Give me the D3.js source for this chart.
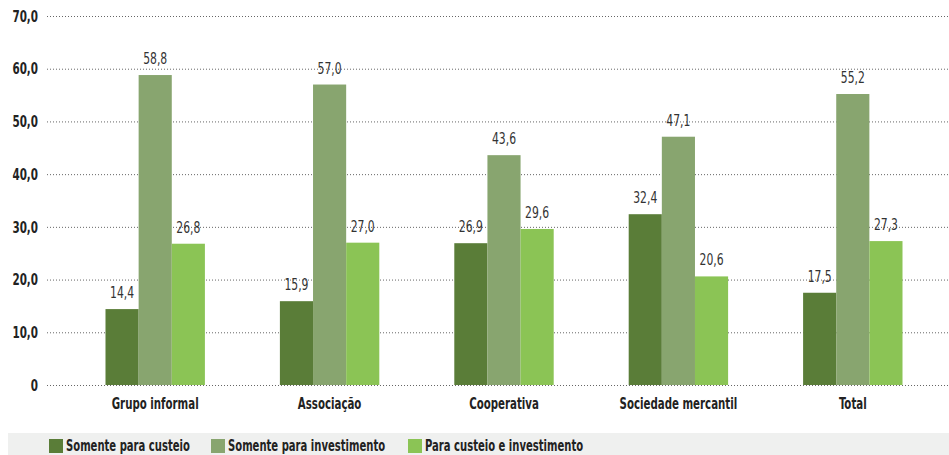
<!DOCTYPE html>
<html lang="pt">
<head>
<meta charset="utf-8">
<title>Chart</title>
<script src="https://cdn.jsdelivr.net/npm/d3@7"></script>
<style>
  body { margin: 0; background: #fff; }
  svg text { font-family: "DejaVu Sans Condensed", "Liberation Sans", sans-serif; }
</style>
</head>
<body>
<div id="wrapper"></div>
<script>
const categories = ["Grupo informal", "Associação", "Cooperativa", "Sociedade mercantil", "Total"]
const seriesNames = ["Somente para custeio", "Somente para investimento", "Para custeio e investimento"]
const custeio = [14.4, 15.9, 26.9, 32.4, 17.5]
const investimento = [58.8, 57.0, 43.6, 47.1, 55.2]
const ambos = [26.8, 27.0, 29.6, 20.6, 27.3]
const yTicks = [0, 10, 20, 30, 40, 50, 60, 70]
const colors = ["#5a7d38", "#88a56f", "#8bc455"]

// squeeze text horizontally to imitate the condensed face
function squeeze(selection, k) {
    selection.each(function() {
        const w = this.getComputedTextLength()
        d3.select(this)
            .attr("textLength", w * k)
            .attr("lengthAdjust", "spacingAndGlyphs")
    })
}

function drawChart() {
    const dimensions = { width: 949, height: 455 }
    const seriesValues = [custeio, investimento, ambos]
    const fmt = v => v.toFixed(1).replace(".", ",")

    const svg = d3.select("#wrapper").append("svg")
        .attr("width", dimensions.width)
        .attr("height", dimensions.height)

    const x0 = d3.scaleBand().domain(categories).range([68, 940]).paddingInner(0.43).paddingOuter(0.215)
    const x1 = d3.scaleBand().domain(d3.range(seriesNames.length)).range([0, x0.bandwidth()])
    const y = d3.scaleLinear().domain([0, 70]).range([385, 16])

    // gridlines
    svg.append("g").selectAll("line")
        .data(yTicks)
        .join("line")
        .attr("x1", 47).attr("x2", 949)
        .attr("y1", d => y(d) + 0.5).attr("y2", d => y(d) + 0.5)
        .attr("stroke", "#666")
        .attr("stroke-width", 1)
        .attr("stroke-dasharray", "1,2")

    // y tick labels
    svg.append("g").selectAll("text")
        .data(yTicks)
        .join("text")
        .attr("x", 38)
        .attr("y", d => y(d))
        .attr("dy", "0.36em")
        .attr("text-anchor", "end")
        .attr("fill", "#222")
        .style("font-size", "16px")
        .style("font-weight", "bold")
        .text(d => d === 0 ? "0" : fmt(d))
        .call(squeeze, 0.72)

    const groups = svg.append("g").selectAll("g")
        .data(categories)
        .join("g")
        .attr("transform", d => `translate(${x0(d)},0)`)

    const cells = (d, i) => seriesValues.map((s, k) => ({ k, v: s[i] }))

    groups.selectAll("rect")
        .data(cells)
        .join("rect")
        .attr("x", d => x1(d.k))
        .attr("width", x1.bandwidth())
        .attr("y", d => y(d.v))
        .attr("height", d => y(0) - y(d.v))
        .attr("fill", d => colors[d.k])

    groups.selectAll("text.value")
        .data(cells)
        .join("text")
        .attr("class", "value")
        .attr("x", d => x1(d.k) + x1.bandwidth() / 2)
        .attr("y", d => y(d.v) - 11)
        .attr("text-anchor", "middle")
        .attr("fill", "#333")
        .style("font-size", "16px")
        .text(d => fmt(d.v))
        .call(squeeze, 0.75)

    // category labels
    svg.append("g").selectAll("text")
        .data(categories)
        .join("text")
        .attr("x", d => x0(d) + x0.bandwidth() / 2)
        .attr("y", 409)
        .attr("text-anchor", "middle")
        .attr("fill", "#222")
        .style("font-size", "16px")
        .style("font-weight", "bold")
        .text(d => d)
        .call(squeeze, 0.71)

    // legend
    const legend = svg.append("g")
    legend.append("rect")
        .attr("x", 8).attr("y", 433)
        .attr("width", 941).attr("height", 22)
        .attr("fill", "#eff0ef")

    const legendX = [49, 211, 408]
    const items = legend.selectAll("g")
        .data(seriesNames)
        .join("g")
        .attr("transform", (d, i) => `translate(${legendX[i]},438)`)
    items.append("rect")
        .attr("y", 1)
        .attr("width", 14).attr("height", 14)
        .attr("fill", (d, i) => colors[i])
    items.append("text")
        .attr("x", 17)
        .attr("y", 13)
        .attr("fill", "#222")
        .style("font-size", "15.5px")
        .style("font-weight", "bold")
        .text(d => d)
        .call(squeeze, 0.72)
}
drawChart()
</script>
</body>
</html>
